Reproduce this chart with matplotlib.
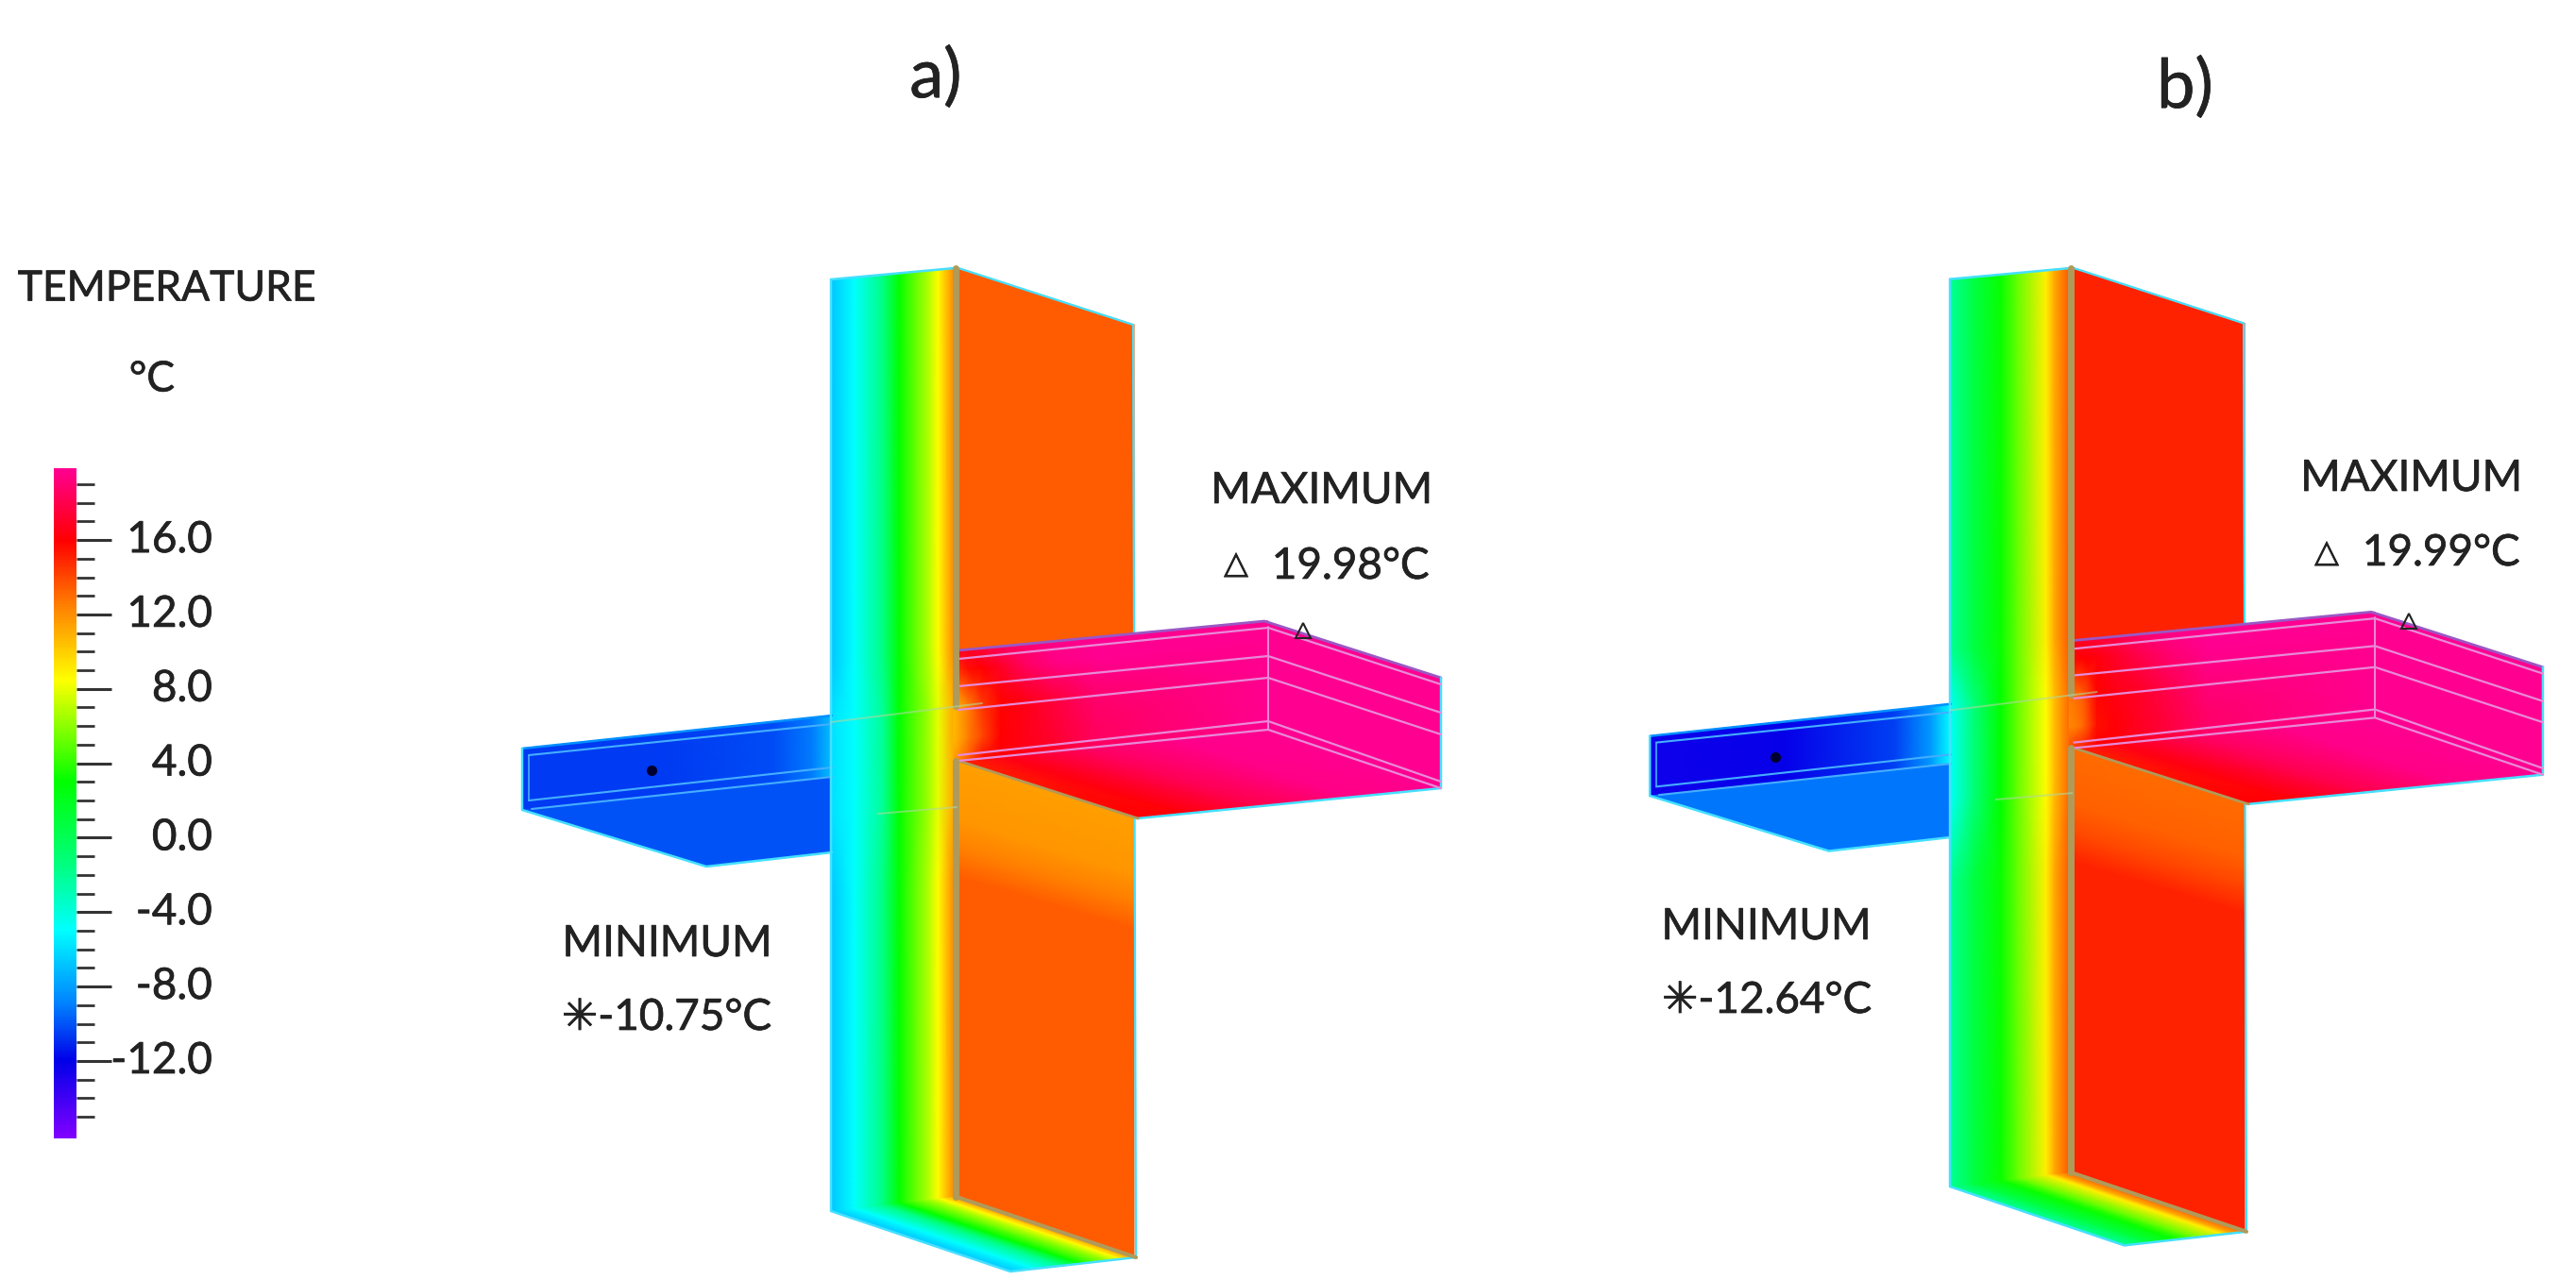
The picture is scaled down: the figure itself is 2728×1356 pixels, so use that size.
import numpy as np
import matplotlib
matplotlib.use("Agg")
import matplotlib.pyplot as plt
import matplotlib.patheffects as pe
from matplotlib.cm import ScalarMappable
from matplotlib.colors import LinearSegmentedColormap, Normalize
from matplotlib.transforms import ScaledTranslation

plt.rcParams["font.family"] = ["Lato", "DejaVu Sans"]

# colour scale (temperature, colour)
scale_temps = [-16.16, -12, -9, -5, -1.5, 3, 8.5, 12.5, 16, 19.86]
scale_colors = ["#8000ff", "#0000e8", "#0080ff", "#00ffff", "#00ff80", "#00ff00",
                "#ffff00", "#ff8000", "#ff0000", "#ff0090"]
major_ticks = [-12, -8, -4, 0, 4, 8, 12, 16]
minor_ticks = list(range(-15, 20))
tick_labels = ["-12.0", "-8.0", "-4.0", "0.0", "4.0", "8.0", "12.0", "16.0"]

# wall cross section, exterior to interior, one row per height
wall_u = [0, 0.19, 0.43, 0.56, 0.81, 0.88, 1]
wall_row_y = [296, 700, 761, 860, 950, 1283]
wall_temp_a = [[-6.8, -5, -1.5, 3, 7, 8.5, 12],
               [-6.8, -5, -1.5, 3, 7, 8.5, 12],
               [-6, -5, -2, 3, 6.5, 8, 11],
               [-6, -5, -2, 3, 6.5, 8, 11],
               [-6.8, -5, -1.5, 3, 7, 8.5, 12],
               [-6.8, -5, -1.5, 3, 7, 8.5, 12]]
wall_temp_b = [[-2.2, 0.5, 3.2, 5, 8.9, 11, 13.5],
               [-2.2, 0.5, 3.2, 5, 8.9, 11, 13.5],
               [-4.8, -1.5, 3, 5, 8.5, 10.5, 13],
               [-4.8, -1.5, 3, 5, 8.5, 10.5, 13],
               [-2.2, 0.5, 3.2, 5, 8.9, 11, 13.5],
               [-2.2, 0.5, 3.2, 5, 8.9, 11, 13.5]]

# interior wall face, bands under the slab
face_left_y = [284, 804, 808, 868, 900, 930, 1268]
face_right_y = [344, 863, 867, 925, 955, 985, 1332]
face_temp_a = [13.5, 13.5, 11.5, 11.8, 12.5, 13.5, 13.5]
face_temp_b = [15.0, 15.0, 13.1, 13.3, 14.0, 15.0, 15.0]

# cold slab, along its length
cold_x = [553, 700, 820, 860, 881]
cold_temp_a = [-10.6, -10.6, -10.2, -9, -7]
cold_temp_b = [-12.4, -12.2, -10.5, -8, -5]
cold_under_a = -10.0
cold_under_b = -9.2

# warm slab front face, rows from top to bottom
warm_x = [1009, 1025, 1040, 1060, 1085, 1115, 1160, 1343]
warm_v = [0, 0.18, 0.5, 0.8, 1]
warm_temp_a = [[17, 17, 17.5, 18.5, 19, 19.5, 19.8, 19.8],
               [14, 15.5, 16, 17, 18.5, 19.5, 19.8, 19.8],
               [10.5, 12.5, 14.5, 15.8, 16.5, 17.5, 19, 19.8],
               [10.5, 12.5, 14, 16, 16.5, 17.2, 18.5, 19.8],
               [11.5, 13.5, 15.5, 16, 16.5, 17, 18.5, 19.8]]
warm_temp_b = [[16.5, 17, 17.5, 18, 18.8, 19.5, 19.8, 19.8],
               [15.5, 16, 16.3, 17, 18, 19, 19.8, 19.8],
               [12.5, 13.5, 15.8, 16.5, 17, 18, 19.2, 19.8],
               [12, 13, 15.5, 16.2, 16.8, 17.5, 18.8, 19.8],
               [14, 15, 16, 16.2, 16.8, 17.5, 18.8, 19.8]]
under_s = [0, 0.15, 0.4, 0.7, 1]
under_temp = [[15, 16.5, 18.5, 19.6, 19.8],
              [16, 16.2, 18, 19.5, 19.8]]

min_label_a = "✳-10.75°C"
max_label_a = "19.98°C"
min_label_b = "✳-12.64°C"
max_label_b = "19.99°C"

cmap = LinearSegmentedColormap.from_list(
    "temp", [((t - scale_temps[0]) / (scale_temps[-1] - scale_temps[0]), c)
             for t, c in zip(scale_temps, scale_colors)])
norm = Normalize(scale_temps[0], scale_temps[-1])

fig = plt.figure(figsize=(27.28, 13.56), dpi=100)
ax = fig.add_axes([0, 0, 1, 1])
ax.set_xlim(0, 2728)
ax.set_ylim(1356, 0)
ax.axis("off")

edge = "#45e0ff"
cold_line = "#45aeff"
warm_line = "#e88ad8"
strip = "#b09a5a"


def mesh(p, X, Y, T, z=1):
    # p is (x origin, x scale, y scale), panel a is the reference geometry
    X = p[0] + p[1] * (np.array(X, dtype=float) - 881)
    Y = 285 + p[2] * (np.array(Y, dtype=float) - 285)
    ax.pcolormesh(X, Y, np.array(T, dtype=float), cmap=cmap, norm=norm,
                  shading="gouraud", zorder=z)


def line(p, xs, ys, color=edge, lw=1.8, z=5, alpha=1.0):
    xs = p[0] + p[1] * (np.array(xs, dtype=float) - 881)
    ys = 285 + p[2] * (np.array(ys, dtype=float) - 285)
    ax.plot(xs, ys, color=color, lw=lw, zorder=z, alpha=alpha, solid_capstyle="round")


def draw_panel(p, wall_temp, face_temp, warm_temp, cold_temp, cold_under):
    # cold slab
    xs = np.array(cold_x, dtype=float)
    f = (xs - 553) / 328
    Y = [793 - 35 * f, 858 - 35 * f]
    mesh(p, [xs, xs], Y, [cold_temp, cold_temp])
    mesh(p, [[553, 881], [748, 881]], [[858, 823], [918, 903]], [[cold_under] * 2] * 2)
    line(p, [553, 881], [793, 758], color="#0090ff")
    line(p, [560, 881], [800, 767], color=cold_line, lw=1.5)
    line(p, [560, 881], [848, 813], color=cold_line, lw=1.5)
    line(p, [563, 881], [857, 823], color=cold_line, lw=1.5)
    line(p, [560, 560], [800, 848], color=cold_line, lw=1.2)
    line(p, [553, 553, 748, 881], [793, 858, 918, 903])

    # interior wall face with the warmer bands under the slab
    fy = [[a, b] for a, b in zip(face_left_y, face_right_y)]
    fx = [[1015, 1201]] * len(fy)
    mesh(p, fx, fy, [[t, t] for t in face_temp], z=1)
    line(p, [1015, 1200, 1203], [284, 344, 1332], lw=1.6, z=1.5)

    # warm slab on top of the face
    wx = np.array(warm_x, dtype=float)
    g = (wx - 1015) / 328
    top_y = 689 - 31 * g
    bot_y = 806 - 33 * g
    X = [wx for v in warm_v]
    Y = [top_y + v * (bot_y - top_y) for v in warm_v]
    mesh(p, X, Y, warm_temp, z=2)
    pink = [19.8, 19.8]
    mesh(p, [[1343, 1526], [1339, 1526]], [[773, 835], [658, 718]], [pink, pink], z=2)
    s = np.array(under_s)
    mesh(p, [1015 + s * 328, 1205 + s * 321], [806 - s * 33, 867 - s * 32], under_temp, z=2)
    line(p, [1015, 1339, 1526], [689, 658, 718], color="#9a58c4", lw=2, z=4)
    line(p, [1526, 1526, 1205], [718, 835, 867], z=4)
    line(p, [1015, 1205], [806, 867], color=strip, lw=2, z=4)
    for y0, y1, y2 in [(698, 665, 725), (727, 695, 755), (752, 718, 778),
                       (800, 764, 828), (806, 773, 835)]:
        line(p, [1015, 1343, 1526], [y0, y1, y2], color=warm_line, lw=1.6, z=4)
    line(p, [1343, 1343], [664, 773], color=warm_line, lw=1.4, z=4)

    # wall cross section, drawn over both slabs
    u = np.array(wall_u)
    X = [880 + u * 129 for y in wall_row_y]
    Y = []
    for y in wall_row_y:
        frac = (y - 296) / (1283 - 296)
        Y.append(y - u * (12 + 3 * frac))
    mesh(p, X, Y, wall_temp, z=3)
    # bottom face
    mesh(p, [880 + u * 133, 1070 + u * 133], [1283 - u * 15, 1347 - u * 15],
         [wall_temp[-1], wall_temp[-1]], z=3)
    line(p, [880, 1011], [296, 284], z=6)
    line(p, [880, 880, 1070, 1203], [296, 1283, 1347, 1332], z=6)
    line(p, [1012, 1012], [284, 748], color=strip, lw=5, z=6)
    line(p, [1012, 1012], [806, 1268], color=strip, lw=5, z=6)
    line(p, [1013, 1203], [1268, 1332], color=strip, lw=3, z=6)
    line(p, [880, 1040], [765, 745], color="#b0d8a0", lw=1.4, z=6, alpha=0.6)
    line(p, [930, 1013], [862, 855], color="#b0d8a0", lw=1.4, z=6, alpha=0.6)

    # location of the extremes
    mx = p[0] + p[1] * (np.array([690, 1380]) - 881)
    my = 285 + p[2] * (np.array([816, 668]) - 285)
    ax.plot(mx[0], my[0], marker="o", ms=7, color="#000030", zorder=7)
    ax.plot(mx[1], my[1], marker="^", ms=11, mfc="none", mec="#222222", mew=1.5, zorder=7)


panel_a = (881, 1.0, 1.0)
panel_b = (2066, 0.972, 0.974)
draw_panel(panel_a, wall_temp_a, face_temp_a, warm_temp_a, cold_temp_a, cold_under_a)
draw_panel(panel_b, wall_temp_b, face_temp_b, warm_temp_b, cold_temp_b, cold_under_b)

txt = "#222222"
fs = 33
heavy = [pe.withStroke(linewidth=0.5, foreground=txt)]


def label(x, y, s, size=fs):
    ax.text(x, y, s, fontsize=size, color=txt, ha="center", va="center", path_effects=heavy)


label(991, 82, "a)", 52)
label(2314, 93, "b)", 52)
label(177, 306, "TEMPERATURE", 32)
label(161, 402, "°C", 32)

label(1400, 520, "MAXIMUM")
label(1309, 598, "△", 24)
label(1430, 600, max_label_a)
label(707, 1000, "MINIMUM")
label(706, 1078, min_label_a)

label(2554, 507, "MAXIMUM")
label(2464, 586, "△", 24)
label(2585, 586, max_label_b)
label(1871, 982, "MINIMUM")
label(1871, 1060, min_label_b)

# legend bar
cax = fig.add_axes([57 / 2728, 1 - 1206 / 1356, 24 / 2728, 710 / 1356])
cb = fig.colorbar(ScalarMappable(norm=norm, cmap=cmap), cax=cax)
cb.outline.set_visible(False)
cb.set_ticks(major_ticks, labels=tick_labels)
cb.set_ticks(minor_ticks, minor=True)
cax.tick_params(which="major", length=26.6, width=2.2, color="#333333", pad=77,
                labelsize=33, labelcolor=txt)
cax.tick_params(which="minor", length=13.7, width=2, color="#333333")
for tl in cax.get_yticklabels():
    tl.set_ha("right")
    tl.set_path_effects(heavy)
    tl.set_transform(tl.get_transform() + ScaledTranslation(0, 0.04, fig.dpi_scale_trans))

fig.savefig("out.png", dpi=100)
